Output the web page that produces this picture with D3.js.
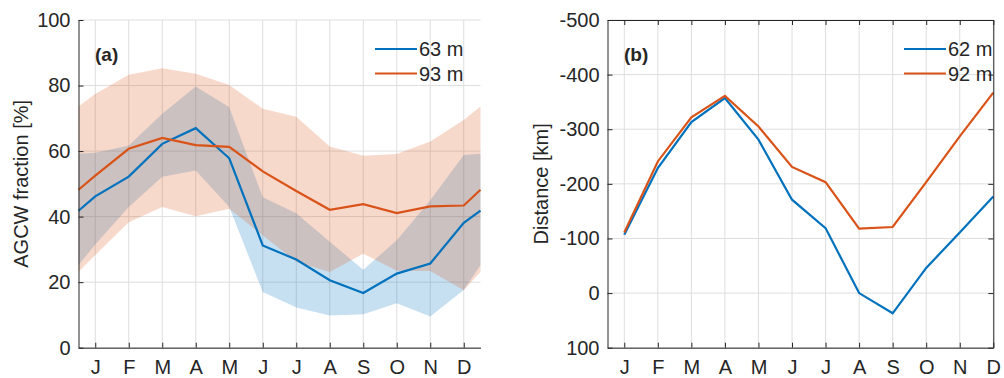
<!DOCTYPE html>
<html>
<head>
<meta charset="utf-8">
<script src="https://cdn.jsdelivr.net/npm/d3@7"></script>
<style>
  html, body { margin: 0; padding: 0; background: #fff; }
  svg { display: block; }
  text { font-family: "Liberation Sans", Arial, Helvetica, sans-serif; fill: #262626; }
</style>
</head>
<body>
<svg id="chart" width="1004" height="378"></svg>
<script>
// Month labels
const months = ["J", "F", "M", "A", "M", "J", "J", "A", "S", "O", "N", "D"];
const monthIdx = [1, 2, 3, 4, 5, 6, 7, 8, 9, 10, 11, 12];

// Panel (a): AGCW fraction [%], monthly with wrap-around values at both edges
const fracMonth = [0.5, 1, 2, 3, 4, 5, 6, 7, 8, 9, 10, 11, 12, 12.5];
const frac63    = [41.8, 46.2, 52.2, 62.2, 67.0, 57.8, 31.2, 26.9, 20.6, 16.7, 22.6, 25.7, 38.1, 41.8];
const frac63Hi  = [59.2, 59.5, 61.7, 71.4, 79.7, 73.4, 45.9, 41.0, 32.3, 23.8, 32.8, 45.0, 58.8, 59.2];
const frac63Lo  = [25.2, 31.5, 42.9, 52.2, 54.1, 42.9, 17.0, 12.3,  9.8, 10.2, 13.6,  9.5, 17.6, 25.2];
const frac93    = [48.2, 52.5, 60.7, 64.0, 61.8, 61.3, 53.8, 47.8, 42.1, 43.8, 41.1, 43.1, 43.4, 48.2];
const frac93Hi  = [73.6, 77.4, 83.3, 85.3, 83.6, 80.2, 72.9, 70.5, 61.4, 58.6, 59.1, 62.9, 69.5, 73.6];
const frac93Lo  = [23.2, 28.3, 38.3, 42.9, 40.1, 42.4, 34.3, 26.2, 23.1, 28.7, 23.5, 23.4, 17.5, 23.2];
const fracTicks = [0, 20, 40, 60, 80, 100];

// Panel (b): distance [km]
const dist62 = [-107, -229, -313, -357, -281, -171, -119, 0, 37, -46, -111, -177];
const dist92 = [-111, -241, -322, -361, -305, -231, -203, -118, -121, -203, -287, -367];
const distTicks = [-500, -400, -300, -200, -100, 0, 100];

const BLUE = "#0072BD", ORANGE = "#D95319", INK = "#262626", GRID = "#dedede";
const svg = d3.select("#chart");

function drawPanel(o) {
  const g = svg.append("g");
  const x = d3.scaleLinear().domain(o.xDomain).range([o.left, o.right]);
  const y = d3.scaleLinear().domain(o.yDomain).range([o.bottom, o.top]);

  // grid
  const grid = g.append("g");
  grid.selectAll("line.v").data(monthIdx).join("line")
    .attr("x1", d => x(d)).attr("x2", d => x(d))
    .attr("y1", o.top).attr("y2", o.bottom)
    .attr("stroke", GRID).attr("stroke-width", 1);
  grid.selectAll("line.h").data(o.yTicks).join("line")
    .attr("x1", o.left).attr("x2", o.right)
    .attr("y1", d => y(d)).attr("y2", d => y(d))
    .attr("stroke", GRID).attr("stroke-width", 1);

  o.draw(g, x, y);

  // axes (inward ticks)
  const fmt = d => (d < 0 ? "-" : "") + Math.abs(d);
  const ax = g.append("g").attr("transform", `translate(0,${o.bottom})`)
    .call(d3.axisBottom(x).tickValues(monthIdx).tickFormat((d, i) => months[i])
      .tickSizeInner(-5).tickSizeOuter(0).tickPadding(12));
  const ay = g.append("g").attr("transform", `translate(${o.left},0)`)
    .call(d3.axisLeft(y).tickValues(o.yTicks).tickFormat(fmt)
      .tickSizeInner(-5).tickSizeOuter(0).tickPadding(8));
  [ax, ay].forEach(a => {
    a.select(".domain").attr("stroke", INK);
    a.selectAll(".tick line").attr("stroke", INK);
    a.selectAll(".tick text").attr("font-size", 20).attr("fill", INK)
      .style("font-family", '"Liberation Sans", Arial, sans-serif');
  });
  ax.selectAll(".tick text").attr("dy", "0.71em");
  if (o.box) {
    const at = g.append("g").attr("transform", `translate(0,${o.top})`)
      .call(d3.axisTop(x).tickValues(monthIdx).tickFormat("")
        .tickSizeInner(-5).tickSizeOuter(0));
    const ar = g.append("g").attr("transform", `translate(${o.right},0)`)
      .call(d3.axisRight(y).tickValues(o.yTicks).tickFormat("")
        .tickSizeInner(-5).tickSizeOuter(0));
    [at, ar].forEach(a => {
      a.select(".domain").attr("stroke", INK);
      a.selectAll(".tick line").attr("stroke", INK);
    });
  }

  // y label
  g.append("text")
    .attr("transform", `translate(${o.yLabelX},${(o.top + o.bottom) / 2}) rotate(-90)`)
    .attr("text-anchor", "middle").attr("font-size", 20).text(o.yLabel);

  // panel tag
  g.append("text").attr("x", o.tagX).attr("y", 61)
    .attr("font-size", 19).attr("font-weight", "bold").text(o.tag);

  // legend
  const lg = g.append("g");
  o.legend.forEach((item, i) => {
    const ly = 49 + i * 24.5;
    lg.append("line").attr("x1", o.legendX).attr("x2", o.legendX + 42)
      .attr("y1", ly).attr("y2", ly)
      .attr("stroke", item.color).attr("stroke-width", 2);
    lg.append("text").attr("x", o.legendX + 44).attr("y", ly)
      .attr("dy", "0.35em").attr("font-size", 20).text(item.label);
  });
}

// Panel (a)
drawPanel({
  left: 78.5, right: 480.5, top: 20, bottom: 347.7,
  xDomain: [0.5, 12.5], yDomain: [0, 100], yTicks: fracTicks,
  box: false, yLabel: "AGCW fraction [%]", yLabelX: 28,
  tag: "(a)", tagX: 95, legendX: 375,
  legend: [{ label: "63 m", color: BLUE }, { label: "93 m", color: ORANGE }],
  draw: (g, x, y) => {
    const band = (hi, lo) => d3.area()
      .x((d, i) => x(fracMonth[i])).y0((d, i) => y(lo[i])).y1((d, i) => y(hi[i]));
    g.append("path").datum(frac63Hi).attr("d", band(frac63Hi, frac63Lo))
      .attr("fill", BLUE).attr("fill-opacity", 0.22);
    g.append("path").datum(frac93Hi).attr("d", band(frac93Hi, frac93Lo))
      .attr("fill", ORANGE).attr("fill-opacity", 0.22);
    const line = d3.line().x((d, i) => x(fracMonth[i])).y(d => y(d));
    g.append("path").datum(frac63).attr("d", line)
      .attr("fill", "none").attr("stroke", BLUE).attr("stroke-width", 2.2);
    g.append("path").datum(frac93).attr("d", line)
      .attr("fill", "none").attr("stroke", ORANGE).attr("stroke-width", 2.2);
  }
});

// Panel (b)
drawPanel({
  left: 607.5, right: 993.3, top: 20, bottom: 347.7,
  xDomain: [0.5, 12], yDomain: [100, -500], yTicks: distTicks,
  box: true, yLabel: "Distance [km]", yLabelX: 548,
  tag: "(b)", tagX: 624, legendX: 904,
  legend: [{ label: "62 m", color: BLUE }, { label: "92 m", color: ORANGE }],
  draw: (g, x, y) => {
    const line = d3.line().x((d, i) => x(monthIdx[i])).y(d => y(d));
    g.append("path").datum(dist62).attr("d", line)
      .attr("fill", "none").attr("stroke", BLUE).attr("stroke-width", 2.2);
    g.append("path").datum(dist92).attr("d", line)
      .attr("fill", "none").attr("stroke", ORANGE).attr("stroke-width", 2.2);
  }
});
</script>
</body>
</html>
